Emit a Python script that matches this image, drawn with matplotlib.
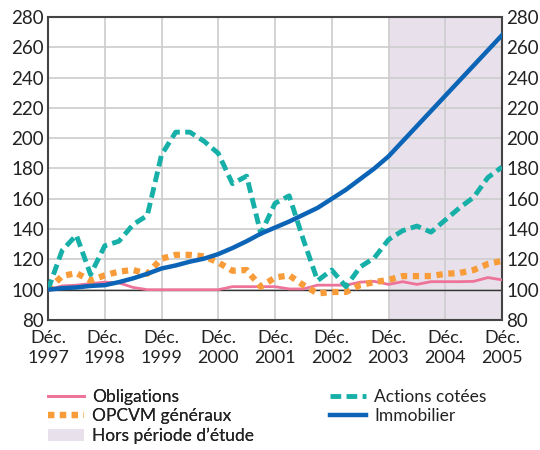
import numpy as np
import matplotlib
matplotlib.use('Agg')
import matplotlib.pyplot as plt
from matplotlib.lines import Line2D
from matplotlib.patches import Patch

plt.rcParams['font.family'] = ['Lato', 'DejaVu Sans']

# trimestres de déc. 1997 à déc. 2005 (indice 100 en déc. 1997)
trimestres = [f'{a}T{q}' for a in range(1997, 2006) for q in (1, 2, 3, 4)][3:]
annees = ['Déc.\n1997', 'Déc.\n1998', 'Déc.\n1999', 'Déc.\n2000', 'Déc.\n2001',
          'Déc.\n2002', 'Déc.\n2003', 'Déc.\n2004', 'Déc.\n2005']

obligations = [100, 102.5, 103, 104, 105, 104.5, 101.5, 100, 100, 100, 100, 100, 100,
               102, 102, 102, 102, 100.5, 100.5, 103, 103, 103, 105, 105.5,
               103.5, 105.3, 103.5, 105.3, 105.3, 105.3, 105.5, 108, 106.5]
actions = [100, 126, 136, 110, 129, 132, 143, 149, 189, 204, 204, 198, 190,
           170, 175, 137, 157, 162, 133, 106, 113, 102, 115, 121,
           133, 139, 142, 138, 146, 154, 161, 174, 181]
opcvm = [100, 109, 111, 106, 109.5, 112, 113, 110.5, 120.5, 123, 123, 122, 118,
         112.5, 113, 102, 108, 109.5, 103, 97.5, 98.5, 98.5, 103, 105,
         106.5, 109, 109, 109, 110.5, 111, 113, 117, 119]
immobilier = [100, 101, 101.5, 102.5, 103, 105, 107.5, 110.5, 114, 116, 118.5, 120.5, 123.5,
              127.5, 132, 137, 141, 145, 149.5, 154, 160, 166, 173, 180,
              188, 198, 208, 218, 228, 238, 248, 258, 268]

debut_hors_etude = '2003T4'

C_OBL = '#ee7399'
C_ACT = '#17b0a8'
C_OPC = '#f89c3a'
C_IMM = '#0b64b5'
C_HORS = '#e8e0ea'

OPC_LS = (0, (1.0, 0.9))
ACT_LS = (0, (2.2, 1.1))


def main():
    x = np.arange(len(trimestres))
    fig = plt.figure(figsize=(5.4, 4.5), dpi=100)
    ax = fig.add_axes([48 / 540, 1 - 320 / 450, 454 / 540, 303 / 450])

    i0 = trimestres.index(debut_hors_etude)
    ax.axvspan(x[i0], x[-1], color=C_HORS, lw=0, zorder=0)

    ax.axhline(100, color='#333333', lw=1.0, zorder=1)
    ax.plot(x, obligations, color=C_OBL, lw=2.0, zorder=3)
    ax.plot(x, opcvm, color=C_OPC, lw=4.5, ls=OPC_LS,
            dash_capstyle='butt', zorder=3)
    ax.plot(x, actions, color=C_ACT, lw=3.5, ls=ACT_LS,
            dash_capstyle='butt', zorder=4)
    ax.plot(x, immobilier, color=C_IMM, lw=3.2, zorder=5)

    ax.set_xlim(x[0], x[-1])
    ax.set_ylim(80, 280)
    ax.set_yticks(range(80, 281, 20))
    ax.set_xticks(x[::4])
    ax.set_xticklabels(annees, linespacing=1.35)
    ax.grid(True, color='#cccccc', lw=1.2, zorder=1)
    ax.set_axisbelow(True)
    ax.tick_params(length=0, labelsize=13.5, colors='#222222', pad=3,
                   labelright=True)
    ax.tick_params(axis='x', pad=7, labelsize=13)
    for s in ax.spines.values():
        s.set_color('#444444')
        s.set_linewidth(1.5)

    h_obl = Line2D([], [], color=C_OBL, lw=2.0)
    h_opc = Line2D([], [], color=C_OPC, lw=4.5, ls=OPC_LS, dash_capstyle='butt')
    h_hors = Patch(facecolor=C_HORS, edgecolor='none')
    h_act = Line2D([], [], color=C_ACT, lw=3.5, ls=ACT_LS, dash_capstyle='butt')
    h_imm = Line2D([], [], color=C_IMM, lw=3.2)

    opts = dict(loc='upper left', frameon=False, fontsize=12.5,
                handlelength=2.1, handletextpad=0.45, labelspacing=0.2,
                borderpad=0, borderaxespad=0, labelcolor='#222222')
    leg1 = fig.legend([h_obl, h_opc, h_hors],
                      ['Obligations', 'OPCVM généraux', 'Hors période d\u2019étude'],
                      bbox_to_anchor=(48 / 540, 1 - 389 / 450), **opts)
    fig.add_artist(leg1)
    fig.legend([h_act, h_imm], ['Actions cotées', 'Immobilier'],
               bbox_to_anchor=(330 / 540, 1 - 389 / 450), **opts)

    fig.savefig('out.png', dpi=100)


if __name__ == '__main__':
    main()
